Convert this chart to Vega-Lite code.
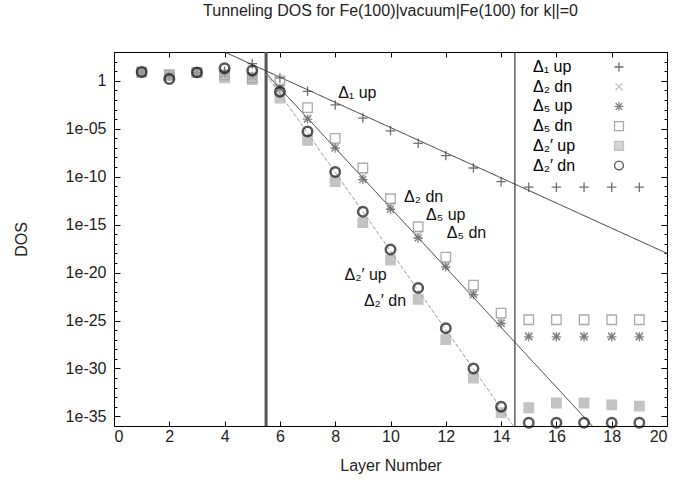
{
  "$schema": "https://vega.github.io/schema/vega-lite/v6.json",
  "width": 553,
  "height": 374,
  "autosize": {"type": "none"},
  "padding": {"left": 114, "top": 52, "right": 11, "bottom": 61},
  "background": "white",
  "config": {
    "font": "Liberation Sans",
    "view": {"stroke": "black", "strokeWidth": 1},
    "axis": {"labelFont": "Liberation Sans", "titleFont": "Liberation Sans", "labelFontSize": 16, "titleFontSize": 16, "titleFontWeight": "normal", "labelColor": "#222", "titleColor": "#222", "grid": false, "domain": false, "tickColor": "black"}
  },
  "title": {"text": "Tunneling DOS for Fe(100)|vacuum|Fe(100) for k||=0", "fontSize": 16, "fontWeight": "normal", "font": "Liberation Sans", "color": "#222", "offset": 32},
  "resolve": {"axis": {"x": "independent", "y": "independent"}},
  "datasets": {
    "pts": [
      {"layer": 1, "series": "Δ₁ up", "dos": 8}, {"layer": 2, "series": "Δ₁ up", "dos": 3}, {"layer": 3, "series": "Δ₁ up", "dos": 7}, {"layer": 4, "series": "Δ₁ up", "dos": 10}, {"layer": 5, "series": "Δ₁ up", "dos": 60},
      {"layer": 6, "series": "Δ₁ up", "dos": 2}, {"layer": 7, "series": "Δ₁ up", "dos": 0.08}, {"layer": 8, "series": "Δ₁ up", "dos": 3e-3}, {"layer": 9, "series": "Δ₁ up", "dos": 1.3e-4}, {"layer": 10, "series": "Δ₁ up", "dos": 6e-6}, {"layer": 11, "series": "Δ₁ up", "dos": 3e-7}, {"layer": 12, "series": "Δ₁ up", "dos": 1.6e-8}, {"layer": 13, "series": "Δ₁ up", "dos": 8e-10}, {"layer": 14, "series": "Δ₁ up", "dos": 3e-11},
      {"layer": 15, "series": "Δ₁ up", "dos": 8e-12}, {"layer": 16, "series": "Δ₁ up", "dos": 8e-12}, {"layer": 17, "series": "Δ₁ up", "dos": 8e-12}, {"layer": 18, "series": "Δ₁ up", "dos": 8e-12}, {"layer": 19, "series": "Δ₁ up", "dos": 8e-12},
      {"layer": 1, "series": "Δ₂ dn", "dos": 8}, {"layer": 2, "series": "Δ₂ dn", "dos": 4}, {"layer": 3, "series": "Δ₂ dn", "dos": 7}, {"layer": 4, "series": "Δ₂ dn", "dos": 5}, {"layer": 5, "series": "Δ₂ dn", "dos": 3},
      {"layer": 6, "series": "Δ₂ dn", "dos": 0.25}, {"layer": 7, "series": "Δ₂ dn", "dos": 1.2e-4}, {"layer": 8, "series": "Δ₂ dn", "dos": 1.6e-7}, {"layer": 9, "series": "Δ₂ dn", "dos": 1e-10}, {"layer": 10, "series": "Δ₂ dn", "dos": 8e-14}, {"layer": 11, "series": "Δ₂ dn", "dos": 8e-17}, {"layer": 12, "series": "Δ₂ dn", "dos": 6e-20}, {"layer": 13, "series": "Δ₂ dn", "dos": 8e-23}, {"layer": 14, "series": "Δ₂ dn", "dos": 8e-26},
      {"layer": 15, "series": "Δ₂ dn", "dos": 2.5e-27}, {"layer": 16, "series": "Δ₂ dn", "dos": 2.5e-27}, {"layer": 17, "series": "Δ₂ dn", "dos": 2.5e-27}, {"layer": 18, "series": "Δ₂ dn", "dos": 2.5e-27}, {"layer": 19, "series": "Δ₂ dn", "dos": 2.5e-27},
      {"layer": 1, "series": "Δ₅ up", "dos": 8}, {"layer": 2, "series": "Δ₅ up", "dos": 3}, {"layer": 3, "series": "Δ₅ up", "dos": 7}, {"layer": 4, "series": "Δ₅ up", "dos": 6}, {"layer": 5, "series": "Δ₅ up", "dos": 3},
      {"layer": 6, "series": "Δ₅ up", "dos": 0.16}, {"layer": 7, "series": "Δ₅ up", "dos": 1e-4}, {"layer": 8, "series": "Δ₅ up", "dos": 1e-7}, {"layer": 9, "series": "Δ₅ up", "dos": 5e-11}, {"layer": 10, "series": "Δ₅ up", "dos": 4e-14}, {"layer": 11, "series": "Δ₅ up", "dos": 4e-17}, {"layer": 12, "series": "Δ₅ up", "dos": 4e-20}, {"layer": 13, "series": "Δ₅ up", "dos": 5e-23}, {"layer": 14, "series": "Δ₅ up", "dos": 5e-26},
      {"layer": 15, "series": "Δ₅ up", "dos": 2e-27}, {"layer": 16, "series": "Δ₅ up", "dos": 2e-27}, {"layer": 17, "series": "Δ₅ up", "dos": 2e-27}, {"layer": 18, "series": "Δ₅ up", "dos": 2e-27}, {"layer": 19, "series": "Δ₅ up", "dos": 2e-27},
      {"layer": 1, "series": "Δ₅ dn", "dos": 8}, {"layer": 2, "series": "Δ₅ dn", "dos": 4}, {"layer": 3, "series": "Δ₅ dn", "dos": 7}, {"layer": 4, "series": "Δ₅ dn", "dos": 4}, {"layer": 5, "series": "Δ₅ dn", "dos": 2},
      {"layer": 6, "series": "Δ₅ dn", "dos": 1}, {"layer": 7, "series": "Δ₅ dn", "dos": 1.6e-3}, {"layer": 8, "series": "Δ₅ dn", "dos": 1e-6}, {"layer": 9, "series": "Δ₅ dn", "dos": 8e-10}, {"layer": 10, "series": "Δ₅ dn", "dos": 5e-13}, {"layer": 11, "series": "Δ₅ dn", "dos": 6e-16}, {"layer": 12, "series": "Δ₅ dn", "dos": 4e-19}, {"layer": 13, "series": "Δ₅ dn", "dos": 5e-22}, {"layer": 14, "series": "Δ₅ dn", "dos": 6e-25},
      {"layer": 15, "series": "Δ₅ dn", "dos": 1.2e-25}, {"layer": 16, "series": "Δ₅ dn", "dos": 1.2e-25}, {"layer": 17, "series": "Δ₅ dn", "dos": 1.2e-25}, {"layer": 18, "series": "Δ₅ dn", "dos": 1.2e-25}, {"layer": 19, "series": "Δ₅ dn", "dos": 1.2e-25},
      {"layer": 1, "series": "Δ₂′ up", "dos": 8}, {"layer": 2, "series": "Δ₂′ up", "dos": 4}, {"layer": 3, "series": "Δ₂′ up", "dos": 7}, {"layer": 4, "series": "Δ₂′ up", "dos": 2}, {"layer": 5, "series": "Δ₂′ up", "dos": 1.3},
      {"layer": 6, "series": "Δ₂′ up", "dos": 0.016}, {"layer": 7, "series": "Δ₂′ up", "dos": 6e-7}, {"layer": 8, "series": "Δ₂′ up", "dos": 3e-11}, {"layer": 9, "series": "Δ₂′ up", "dos": 1.6e-15}, {"layer": 10, "series": "Δ₂′ up", "dos": 2e-19}, {"layer": 11, "series": "Δ₂′ up", "dos": 1.6e-23}, {"layer": 12, "series": "Δ₂′ up", "dos": 1e-27}, {"layer": 13, "series": "Δ₂′ up", "dos": 1e-31}, {"layer": 14, "series": "Δ₂′ up", "dos": 2.5e-35},
      {"layer": 15, "series": "Δ₂′ up", "dos": 8e-35}, {"layer": 16, "series": "Δ₂′ up", "dos": 2.5e-34}, {"layer": 17, "series": "Δ₂′ up", "dos": 2.5e-34}, {"layer": 18, "series": "Δ₂′ up", "dos": 1.6e-34}, {"layer": 19, "series": "Δ₂′ up", "dos": 1.2e-34},
      {"layer": 1, "series": "Δ₂′ dn", "dos": 8}, {"layer": 2, "series": "Δ₂′ dn", "dos": 1.5}, {"layer": 3, "series": "Δ₂′ dn", "dos": 7.5}, {"layer": 4, "series": "Δ₂′ dn", "dos": 20}, {"layer": 5, "series": "Δ₂′ dn", "dos": 12},
      {"layer": 6, "series": "Δ₂′ dn", "dos": 0.07}, {"layer": 7, "series": "Δ₂′ dn", "dos": 5e-6}, {"layer": 8, "series": "Δ₂′ dn", "dos": 3e-10}, {"layer": 9, "series": "Δ₂′ dn", "dos": 2.2e-14}, {"layer": 10, "series": "Δ₂′ dn", "dos": 2.5e-18}, {"layer": 11, "series": "Δ₂′ dn", "dos": 2.5e-22}, {"layer": 12, "series": "Δ₂′ dn", "dos": 1.6e-26}, {"layer": 13, "series": "Δ₂′ dn", "dos": 1e-30}, {"layer": 14, "series": "Δ₂′ dn", "dos": 1e-34},
      {"layer": 15, "series": "Δ₂′ dn", "dos": 2.2e-36}, {"layer": 16, "series": "Δ₂′ dn", "dos": 2.2e-36}, {"layer": 17, "series": "Δ₂′ dn", "dos": 2.2e-36}, {"layer": 18, "series": "Δ₂′ dn", "dos": 2.2e-36}, {"layer": 19, "series": "Δ₂′ dn", "dos": 2.2e-36}
    ],
    "fits": [
      {"fit": "a", "layer": 4, "dos": 1e3}, {"fit": "a", "layer": 20, "dos": 1e-18},
      {"fit": "b", "layer": 5.5, "dos": 6}, {"fit": "b", "layer": 17.3, "dos": 1e-36},
      {"fit": "c", "layer": 5.5, "dos": 5}, {"fit": "c", "layer": 14.45, "dos": 1e-36}
    ],
    "vlines": [
      {"layer": 5.5, "kind": "vac"}, {"layer": 14.5, "kind": "edge"}
    ],
    "notes": [
      {"layer": 8.8, "dos": 0.05, "label": "Δ₁ up"},
      {"layer": 11.2, "dos": 8e-13, "label": "Δ₂ dn"},
      {"layer": 12.0, "dos": 1e-14, "label": "Δ₅ up"},
      {"layer": 12.75, "dos": 1.2e-16, "label": "Δ₅ dn"},
      {"layer": 9.1, "dos": 5e-21, "label": "Δ₂′ up"},
      {"layer": 9.8, "dos": 1e-23, "label": "Δ₂′ dn"}
    ]
  },
  "layer": [
    {
      "data": {"name": "vlines"},
      "mark": {"type": "rule"},
      "encoding": {
        "x": {"field": "layer", "type": "quantitative", "scale": {"domain": [0, 20], "nice": false}, "axis": null},
        "color": {"field": "kind", "type": "nominal", "scale": {"domain": ["vac", "edge"], "range": ["#555", "#111"]}, "legend": null},
        "strokeWidth": {"condition": {"test": "datum.kind == 'vac'", "value": 3}, "value": 1}
      }
    },
    {
      "data": {"name": "fits"},
      "mark": {"type": "line", "clip": true},
      "encoding": {
        "x": {"field": "layer", "type": "quantitative",
          "axis": {"orient": "top", "values": [0, 2, 4, 6, 8, 10, 12, 14, 16, 18, 20], "labels": false, "title": null, "tickSize": -5}},
        "y": {"field": "dos", "type": "quantitative", "scale": {"type": "log", "domain": [1e-36, 1e3], "nice": false},
          "axis": {"orient": "right", "values": [1e-36, 1e-35, 1e-34, 1e-33, 1e-32, 1e-31, 1e-30, 1e-29, 1e-28, 1e-27, 1e-26, 1e-25, 1e-24, 1e-23, 1e-22, 1e-21, 1e-20, 1e-19, 1e-18, 1e-17, 1e-16, 1e-15, 1e-14, 1e-13, 1e-12, 1e-11, 1e-10, 1e-9, 1e-8, 1e-7, 1e-6, 1e-5, 1e-4, 1e-3, 1e-2, 1e-1, 1, 10, 100],
            "labels": false, "title": null,
            "tickSize": {"condition": {"test": "round(log(datum.value)/LN10) % 5 == 0", "value": -6}, "value": -3}}},
        "detail": {"field": "fit"},
        "stroke": {"condition": {"test": "datum.fit == 'c'", "value": "#999"}, "value": "#333"},
        "strokeDash": {"condition": {"test": "datum.fit == 'c'", "value": [4, 2]}, "value": [1, 0]},
        "strokeWidth": {"value": 1}
      }
    },
    {
      "data": {"name": "pts"},
      "mark": {"type": "point", "filled": false, "size": 90},
      "encoding": {
        "x": {"field": "layer", "type": "quantitative", "title": "Layer Number",
          "axis": {"values": [0, 2, 4, 6, 8, 10, 12, 14, 16, 18, 20], "tickSize": -5, "labelPadding": 7, "titlePadding": 13, "format": "d"}},
        "y": {"field": "dos", "type": "quantitative", "title": "DOS",
          "axis": {"values": [1e-36, 1e-35, 1e-34, 1e-33, 1e-32, 1e-31, 1e-30, 1e-29, 1e-28, 1e-27, 1e-26, 1e-25, 1e-24, 1e-23, 1e-22, 1e-21, 1e-20, 1e-19, 1e-18, 1e-17, 1e-16, 1e-15, 1e-14, 1e-13, 1e-12, 1e-11, 1e-10, 1e-9, 1e-8, 1e-7, 1e-6, 1e-5, 1e-4, 1e-3, 1e-2, 1e-1, 1, 10, 100],
            "labelExpr": "(round(log(datum.value)/LN10) % 5 == 0 && datum.value <= 1) ? (datum.value >= 1 ? '1' : '1e-' + (round(-log(datum.value)/LN10) < 10 ? '0' : '') + round(-log(datum.value)/LN10)) : ''",
            "tickSize": {"condition": {"test": "round(log(datum.value)/LN10) % 5 == 0", "value": -6}, "value": -3},
            "labelPadding": 14, "titlePadding": 36}},
        "stroke": {"field": "series", "type": "nominal",
          "scale": {"domain": ["Δ₁ up", "Δ₂ dn", "Δ₅ up", "Δ₅ dn", "Δ₂′ up", "Δ₂′ dn"], "range": ["#333", "#aaa", "#555", "#888", "#aaa", "#111"]},
          "legend": {"title": null, "orient": "none", "legendX": 407, "legendY": 7, "padding": 0, "labelFont": "Liberation Sans", "labelFontSize": 16, "rowPadding": 3.7, "symbolOffset": 90, "labelOffset": -94, "symbolSize": 80, "symbolStrokeWidth": 1.3,
            "encode": {"labels": {"update": {"fill": {"scale": "stroke", "field": "value"}}}}}},
        "fill": {"field": "series", "type": "nominal",
          "scale": {"domain": ["Δ₁ up", "Δ₂ dn", "Δ₅ up", "Δ₅ dn", "Δ₂′ up", "Δ₂′ dn"], "range": ["transparent", "transparent", "transparent", "transparent", "#aaa", "transparent"]}},
        "shape": {"field": "series", "type": "nominal",
          "scale": {"domain": ["Δ₁ up", "Δ₂ dn", "Δ₅ up", "Δ₅ dn", "Δ₂′ up", "Δ₂′ dn"], "range": ["M-1,0H1M0,-1V1", "M-0.8,-0.8L0.8,0.8M-0.8,0.8L0.8,-0.8", "M-1,0H1M0,-1V1M-0.75,-0.75L0.75,0.75M-0.75,0.75L0.75,-0.75", "square", "square", "circle"]}},
        "strokeWidth": {"condition": {"test": "datum.series == 'Δ₂′ dn'", "value": 2.5}, "value": 1.3}
      }
    },
    {
      "data": {"name": "notes"},
      "mark": {"type": "text", "font": "Liberation Sans", "fontSize": 16, "color": "#111"},
      "encoding": {
        "x": {"field": "layer", "type": "quantitative", "axis": null},
        "y": {"field": "dos", "type": "quantitative", "axis": null},
        "text": {"field": "label"}
      }
    }
  ]
}
